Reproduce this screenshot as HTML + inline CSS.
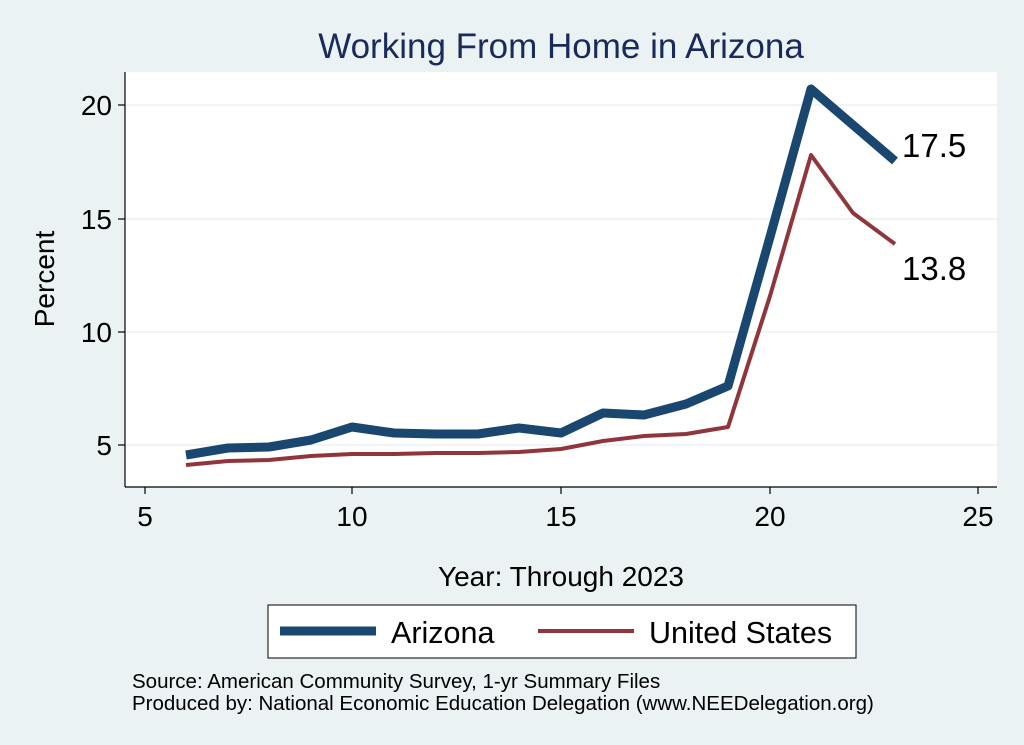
<!DOCTYPE html>
<html><head><meta charset="utf-8"><style>
html,body{margin:0;padding:0;background:#eaf2f3;}
svg{display:block;font-family:"Liberation Sans",Arial,sans-serif;}
</style></head><body>
<svg width="1024" height="745" viewBox="0 0 1024 745">
<rect width="1024" height="745" fill="#eaf2f3"/>
<rect x="125" y="72" width="872" height="415" fill="#ffffff"/>
<g stroke="#eaf2f3" stroke-width="1.5">
<line x1="125" y1="105" x2="997" y2="105"/>
<line x1="125" y1="219" x2="997" y2="219"/>
<line x1="125" y1="332" x2="997" y2="332"/>
<line x1="125" y1="445" x2="997" y2="445"/>
</g>
<g stroke="#000" stroke-width="1.2" fill="none">
<line x1="125" y1="72" x2="125" y2="487"/>
<line x1="125" y1="487" x2="997" y2="487"/>
<line x1="118" y1="105" x2="125" y2="105"/><line x1="118" y1="219" x2="125" y2="219"/>
<line x1="118" y1="332" x2="125" y2="332"/><line x1="118" y1="445" x2="125" y2="445"/>
<line x1="145" y1="487" x2="145" y2="494"/><line x1="352" y1="487" x2="352" y2="494"/>
<line x1="561" y1="487" x2="561" y2="494"/><line x1="770" y1="487" x2="770" y2="494"/>
<line x1="978" y1="487" x2="978" y2="494"/>
</g>
<g font-size="28" fill="#000" text-anchor="end">
<text x="112" y="115">20</text><text x="112" y="229">15</text>
<text x="112" y="342">10</text><text x="112" y="455">5</text>
</g>
<g font-size="28" fill="#000" text-anchor="middle">
<text x="145" y="526">5</text><text x="352" y="526">10</text>
<text x="561" y="526">15</text><text x="770" y="526">20</text><text x="978" y="526">25</text>
<text x="561" y="586">Year: Through 2023</text>
</g>
<text x="54" y="279" font-size="28" text-anchor="middle" transform="rotate(-90 54 279)">Percent</text>
<text x="561" y="58" font-size="35" fill="#1a2a5a" text-anchor="middle">Working From Home in Arizona</text>
<polyline fill="none" stroke="#1a476f" stroke-width="9" stroke-linejoin="round" points="186,455 228,448 269,447 311,440 352,427 394,433 436,434 478,434 519,428 561,433 603,413 644,415 686,404 728,386 770,237 811,89 853,125 895,161"/>
<polyline fill="none" stroke="#90353b" stroke-width="4" stroke-linejoin="round" points="186,465 228,461 269,460 311,456 352,454 394,454 436,453 478,453 519,452 561,449 603,441 644,436 686,434 728,427 770,296 811,155 853,213 895,244"/>
<text x="902" y="157" font-size="33">17.5</text>
<text x="902" y="280" font-size="33">13.8</text>
<rect x="268" y="605" width="588" height="53" fill="#fff" stroke="#000" stroke-width="1"/>
<line x1="280" y1="631" x2="376" y2="631" stroke="#1a476f" stroke-width="9"/>
<text x="391" y="643" font-size="30.5">Arizona</text>
<line x1="538" y1="631" x2="634" y2="631" stroke="#90353b" stroke-width="4"/>
<text x="649" y="643" font-size="30.5">United States</text>
<text x="132" y="688" font-size="20.5">Source: American Community Survey, 1-yr Summary Files</text>
<text x="132" y="710" font-size="20.5">Produced by: National Economic Education Delegation (www.NEEDelegation.org)</text>
</svg>
</body></html>
